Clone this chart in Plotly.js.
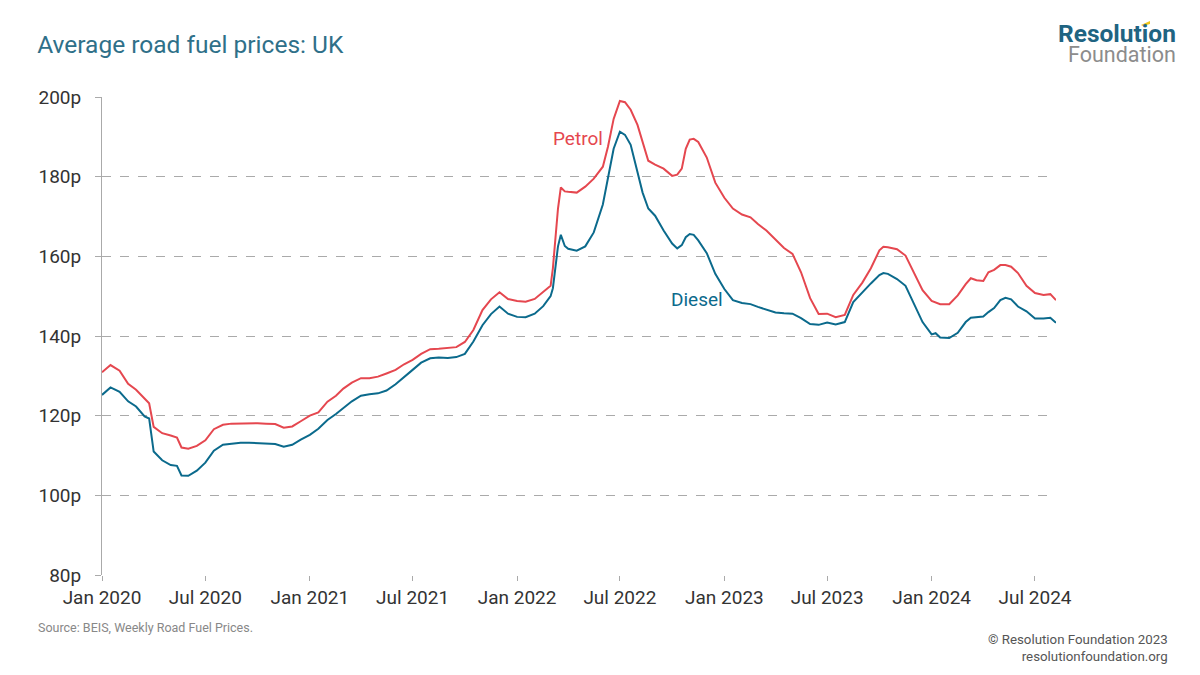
<!DOCTYPE html>
<html>
<head>
<meta charset="utf-8">
<script src="https://cdn.plot.ly/plotly-3.0.1.min.js"></script>
<style>
html,body{margin:0;padding:0;background:#fff;}
#chart{width:1200px;height:675px;}
</style>
</head>
<body>
<div id="chart"></div>
<script>
var dates = [
"2020-01-01","2020-01-16","2020-02-01","2020-02-16","2020-03-01","2020-03-16","2020-03-24","2020-04-01","2020-04-16","2020-05-01","2020-05-12","2020-05-20","2020-06-01","2020-06-16",
"2020-07-01","2020-07-16","2020-08-01","2020-08-16","2020-09-01","2020-09-16","2020-10-01","2020-10-16","2020-11-01","2020-11-16","2020-12-01","2020-12-16",
"2021-01-01","2021-01-16","2021-02-01","2021-02-16","2021-03-01","2021-03-16","2021-04-01","2021-04-16","2021-05-01","2021-05-16","2021-06-01","2021-06-16",
"2021-07-01","2021-07-16","2021-08-01","2021-08-16","2021-09-01","2021-09-16","2021-10-01","2021-10-16","2021-11-01","2021-11-16","2021-12-01","2021-12-16",
"2022-01-01","2022-01-16","2022-02-01","2022-02-16","2022-03-01","2022-03-05","2022-03-10","2022-03-14","2022-03-19","2022-03-26","2022-04-01","2022-04-16","2022-05-01","2022-05-16",
"2022-06-01","2022-06-10","2022-06-20","2022-07-01","2022-07-10","2022-07-20","2022-08-01","2022-08-10","2022-08-20","2022-09-01","2022-09-16",
"2022-10-01","2022-10-10","2022-10-18","2022-10-25","2022-11-01","2022-11-08","2022-11-16","2022-12-01","2022-12-16",
"2023-01-01","2023-01-16","2023-02-01","2023-02-16","2023-03-01","2023-03-16","2023-04-01","2023-04-16","2023-05-01","2023-05-16","2023-06-01","2023-06-16",
"2023-07-01","2023-07-16","2023-08-01","2023-08-16","2023-09-01","2023-09-16","2023-10-01","2023-10-08","2023-10-16","2023-11-01","2023-11-16","2023-12-01","2023-12-16",
"2024-01-01","2024-01-08","2024-01-16","2024-02-01","2024-02-16","2024-03-01","2024-03-10","2024-03-20","2024-04-01","2024-04-10","2024-04-20","2024-05-01","2024-05-10","2024-05-20",
"2024-06-01","2024-06-16","2024-07-01","2024-07-16","2024-07-28","2024-08-07"
];

var petrol = [
130.9,132.7,131.3,128.0,126.5,124.3,123.1,117.2,115.6,115.0,114.5,112.0,111.7,112.4,
113.8,116.6,117.7,118.0,118.1,118.1,118.1,118.0,117.9,117.0,117.3,118.6,
120.0,120.8,123.5,125.0,126.8,128.3,129.4,129.4,129.8,130.6,131.5,132.9,
134.0,135.5,136.7,136.8,137.1,137.2,138.5,141.5,146.5,149.2,151.0,149.3,
148.8,148.6,149.3,151.0,152.6,157.0,165.0,172.0,177.3,176.3,176.2,176.0,177.5,179.5,
182.5,187.5,194.5,199.0,198.7,196.8,193.0,188.5,184.0,183.0,182.0,
180.2,180.5,182.0,187.0,189.3,189.5,188.7,184.8,178.5,
174.7,172.0,170.5,169.8,168.1,166.5,164.2,162.1,160.6,156.0,149.5,145.5,
145.6,144.7,145.3,150.3,153.4,157.0,161.5,162.4,162.3,161.8,160.2,156.0,151.5,
148.8,148.4,148.0,148.0,150.2,153.0,154.5,154.0,153.8,156.0,156.6,157.8,157.8,157.4,
155.8,152.6,150.8,150.3,150.5,149.0
];

var diesel = [
125.2,127.1,126.0,123.6,122.3,119.8,119.3,111.0,108.8,107.6,107.4,105.0,104.9,106.2,
108.2,111.2,112.7,113.0,113.2,113.2,113.1,113.0,112.9,112.2,112.7,114.0,
115.2,116.7,118.9,120.4,122.0,123.6,125.0,125.4,125.6,126.3,127.9,129.8,
131.5,133.3,134.4,134.6,134.5,134.7,135.5,138.6,142.7,145.5,147.4,145.6,
144.8,144.7,145.6,147.5,150.0,152.0,158.3,162.5,165.4,162.6,161.9,161.4,162.5,166.0,
173.0,179.5,187.0,191.3,190.5,188.0,181.5,176.0,172.0,170.2,166.5,
163.2,162.0,162.8,164.8,165.6,165.4,164.0,160.8,155.6,
151.8,149.0,148.3,148.0,147.3,146.6,145.9,145.7,145.6,144.5,143.0,142.8,
143.4,142.9,143.5,148.5,151.0,153.2,155.3,155.8,155.6,154.3,152.6,148.0,143.5,
140.4,140.7,139.6,139.5,140.8,143.5,144.6,144.8,144.9,146.0,147.0,149.0,149.6,149.2,
147.4,146.2,144.4,144.4,144.6,143.3
];

var seriesNames = ["Petrol","Diesel"];
var yTickVals = [80,100,120,140,160,180,200];
var yTickText = ["80p","100p","120p","140p","160p","180p","200p"];
var xTickVals = ["2020-01-01","2020-07-01","2021-01-01","2021-07-01","2022-01-01","2022-07-01","2023-01-01","2023-07-01","2024-01-01","2024-07-01"];
var xTickText = ["Jan 2020","Jul 2020","Jan 2021","Jul 2021","Jan 2022","Jul 2022","Jan 2023","Jul 2023","Jan 2024","Jul 2024"];

var RED = "#e5474f";
var TEAL = "#0b6a8c";
var FONT = "Roboto, 'Open Sans', sans-serif";

var traces = [
  {x: dates, y: petrol, name: seriesNames[0], type: "scatter", mode: "lines",
   line: {color: RED, width: 2}, hoverinfo: "x+y"},
  {x: dates, y: diesel, name: seriesNames[1], type: "scatter", mode: "lines",
   line: {color: TEAL, width: 2}, hoverinfo: "x+y"}
];

function px(x){ return (x-102)/954; }
function py(y){ return (575-y)/478; }

var layout = {
  width: 1200, height: 675,
  paper_bgcolor: "#fff", plot_bgcolor: "#fff",
  margin: {l: 102, r: 144, t: 97, b: 100},
  showlegend: false,
  font: {family: FONT, color: "#333"},
  title: {text: "Average road fuel prices: UK", x: 0.031, xanchor: "left", y: 0.934, yanchor: "middle",
          font: {family: FONT, size: 24.5, color: "#2f7089"}},
  xaxis: {
    type: "date", range: ["2020-01-01","2024-08-07"],
    tickvals: xTickVals, ticktext: xTickText,
    showgrid: false, zeroline: false, showline: false,
    ticks: "outside", ticklen: 5, tickcolor: "#aaa", tickwidth: 1,
    tickfont: {family: FONT, size: 19, color: "#333"},
    fixedrange: true
  },
  yaxis: {
    range: [80, 200], tickvals: yTickVals, ticktext: yTickText,
    showgrid: true, gridcolor: "#aaa", griddash: "dash", gridwidth: 1,
    zeroline: false, showline: true, linecolor: "#aaa", linewidth: 1,
    ticks: "outside", ticklen: 6, tickcolor: "#aaa", tickwidth: 1,
    ticklabelstandoff: 10,
    tickfont: {family: FONT, size: 19, color: "#333"},
    fixedrange: true
  },
  annotations: [
    {text: seriesNames[0], xref: "paper", yref: "paper", x: px(578), y: py(139),
     showarrow: false, xanchor: "center", yanchor: "middle", font: {family: FONT, size: 19, color: RED}},
    {text: seriesNames[1], xref: "paper", yref: "paper", x: px(697), y: py(299),
     showarrow: false, xanchor: "center", yanchor: "middle", font: {family: FONT, size: 19, color: TEAL}},
    {text: "Source: BEIS, Weekly Road Fuel Prices.", xref: "paper", yref: "paper", x: px(36), y: py(627),
     showarrow: false, xanchor: "left", yanchor: "middle", font: {family: FONT, size: 12.5, color: "#888"}},
    {text: "© Resolution Foundation 2023<br>resolutionfoundation.org", xref: "paper", yref: "paper", x: px(1170), y: py(648),
     showarrow: false, xanchor: "right", yanchor: "middle", align: "right", font: {family: FONT, size: 13.3, color: "#555"}},
    {text: "<span style='font-weight:bold;font-size:24.5px;fill:#1f6482'>Resolution</span><br><span style='font-size:21.5px;fill:#8c8c8c'>Foundation</span>",
     xref: "paper", yref: "paper", x: px(1178), y: py(43),
     showarrow: false, xanchor: "right", yanchor: "middle", align: "right", font: {family: FONT, size: 15, color: "#1f6482"}}
  ],
  shapes: [
    {type: "path", xref: "paper", yref: "paper",
     path: "M " + px(1141) + "," + py(25) + " L " + px(1150) + "," + py(21) +
           " L " + px(1150) + "," + py(24) + " L " + px(1143) + "," + py(26) + " Z",
     fillcolor: "#f2c417", line: {width: 0}}
  ]
};

Plotly.newPlot("chart", traces, layout, {displayModeBar: false, staticPlot: true});
</script>
</body>
</html>
